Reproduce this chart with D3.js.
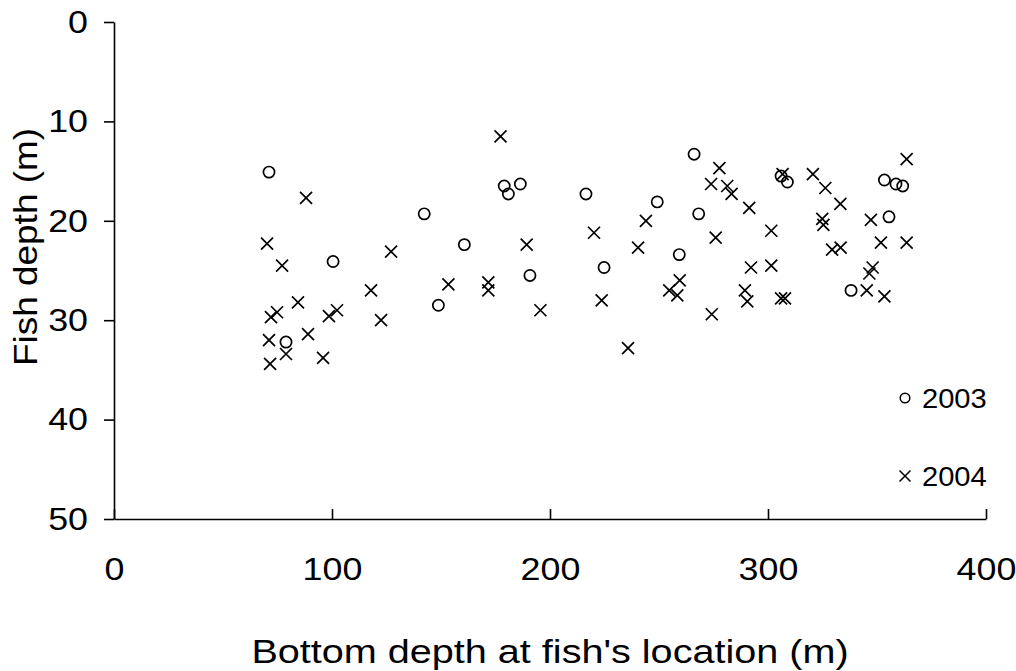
<!DOCTYPE html>
<html>
<head>
<meta charset="utf-8">
<script src="https://cdn.jsdelivr.net/npm/d3@7"></script>
<style>
  html, body { margin: 0; padding: 0; background: #fff; }
  svg { display: block; font-family: "Liberation Sans", Arial, sans-serif; }
</style>
</head>
<body>
<svg id="chart" width="1016" height="671"></svg>
<script>
// Data: [bottom depth (m), fish depth (m)]
const series2003 = [
  [71.1, 15.1], [100.5, 24.1], [78.9, 32.2], [179.0, 16.5], [180.9, 17.3],
  [186.4, 16.3], [142.3, 19.3], [160.7, 22.4], [190.8, 25.5], [148.8, 28.5],
  [266.1, 13.3], [216.5, 17.3], [249.2, 18.1], [268.2, 19.3], [259.3, 23.4],
  [224.8, 24.7], [306.0, 15.5], [308.9, 16.1], [353.4, 15.9], [358.7, 16.3],
  [361.8, 16.5], [355.5, 19.6], [338.1, 27.0]
];
const series2004 = [
  [88.1, 17.7], [70.2, 22.3], [77.1, 24.5], [127.1, 23.1], [117.9, 27.0],
  [84.4, 28.2], [74.8, 29.2], [72.0, 29.7], [102.3, 29.0], [98.6, 29.6],
  [122.5, 30.0], [89.0, 31.4], [71.1, 32.0], [78.9, 33.4], [71.6, 34.4],
  [95.9, 33.8], [177.3, 11.5], [189.3, 22.4], [153.4, 26.4], [171.7, 26.2],
  [171.7, 27.0], [195.6, 29.0], [244.0, 20.0], [220.2, 21.2], [240.4, 22.7],
  [259.5, 26.0], [254.7, 27.0], [258.4, 27.5], [223.7, 28.0], [235.8, 32.8],
  [277.7, 14.7], [273.9, 16.3], [281.3, 16.5], [283.3, 17.3], [291.4, 18.7],
  [276.0, 21.7], [301.5, 21.0], [306.7, 15.3], [320.6, 15.3], [326.3, 16.7],
  [333.2, 18.3], [324.9, 19.8], [325.4, 20.4], [329.4, 22.9], [333.3, 22.7],
  [292.2, 24.7], [301.5, 24.5], [289.4, 27.0], [290.5, 28.1], [306.0, 27.8],
  [307.8, 27.8], [274.2, 29.4], [363.6, 13.8], [347.2, 19.9], [351.8, 22.2],
  [363.6, 22.2], [348.0, 24.7], [346.5, 25.3], [345.3, 27.0], [353.4, 27.6]
];
const xTicks = [0, 100, 200, 300, 400];
const yTicks = [0, 10, 20, 30, 40, 50];
const legendLabels = ["2003", "2004"];
const xTitle = "Bottom depth at fish's location (m)";
const yTitle = "Fish depth (m)";

const FONT = "Liberation Sans, Arial, sans-serif";
const FS = 32;      // axis font size
const SX = 1.12;    // slight horizontal text stretch seen in the reference

const svg = d3.select("#chart");
const x = d3.scaleLinear().domain([0, 400]).range([114, 986]);
const y = d3.scaleLinear().domain([0, 50]).range([22, 519]);

function stretch(sel, k) {
  sel.attr("transform", function () {
    const ax = +(this.getAttribute("x") || 0);
    return `translate(${ax},0) scale(${k},1) translate(${-ax},0)`;
  });
}

// Y axis
const yAxis = svg.append("g")
  .attr("transform", `translate(${x(0)},0)`)
  .call(d3.axisLeft(y).tickValues(yTicks).tickSize(10).tickPadding(16).tickSizeOuter(0));
yAxis.attr("font-size", FS).attr("font-family", FONT);
yAxis.select(".domain").attr("stroke", "#000").attr("stroke-width", 1.6);
yAxis.selectAll(".tick line").attr("stroke", "#000").attr("stroke-width", 1.6);
yAxis.selectAll(".tick text").attr("fill", "#000").call(stretch, SX);

// X axis (ticks pointing up, labels below)
const xAxis = svg.append("g")
  .attr("transform", `translate(0,${y(50)})`)
  .call(d3.axisBottom(x).tickValues(xTicks).tickSize(-10).tickPadding(38).tickSizeOuter(0));
xAxis.attr("font-size", FS).attr("font-family", FONT);
xAxis.select(".domain").attr("stroke", "#000").attr("stroke-width", 1.6);
xAxis.selectAll(".tick line").attr("stroke", "#000").attr("stroke-width", 1.6);
xAxis.selectAll(".tick text").attr("fill", "#000").call(stretch, SX);

// Axis titles
svg.append("text")
  .attr("transform", `translate(550,663) scale(1.2,1)`)
  .attr("text-anchor", "middle")
  .attr("font-size", 33).attr("font-family", FONT).attr("fill", "#000")
  .text(xTitle);
svg.append("text")
  .attr("transform", `translate(37,247) rotate(-90) scale(${SX},1)`)
  .attr("text-anchor", "middle")
  .attr("font-size", 33).attr("font-family", FONT).attr("fill", "#000")
  .text(yTitle);

// Markers
const r = 5.6;
svg.append("g").selectAll("circle")
  .data(series2003).join("circle")
  .attr("cx", d => x(d[0])).attr("cy", d => y(d[1]))
  .attr("r", r).attr("fill", "none").attr("stroke", "#000").attr("stroke-width", 1.7);

const s = 6;
svg.append("g").selectAll("path")
  .data(series2004).join("path")
  .attr("d", d => {
    const cx = x(d[0]), cy = y(d[1]);
    return `M${cx - s},${cy - s}L${cx + s},${cy + s}M${cx - s},${cy + s}L${cx + s},${cy - s}`;
  })
  .attr("fill", "none").attr("stroke", "#000").attr("stroke-width", 1.7);

// Legend
const legend = svg.append("g");
const lx = 905;
const ly = [398, 476];
legend.append("circle").attr("cx", lx).attr("cy", ly[0]).attr("r", 4.8)
  .attr("fill", "none").attr("stroke", "#000").attr("stroke-width", 1.5);
legend.append("path")
  .attr("d", `M${lx - 5.5},${ly[1] - 5.5}L${lx + 5.5},${ly[1] + 5.5}M${lx - 5.5},${ly[1] + 5.5}L${lx + 5.5},${ly[1] - 5.5}`)
  .attr("stroke", "#000").attr("stroke-width", 1.5).attr("fill", "none");
legend.selectAll("text").data(legendLabels).join("text")
  .attr("x", 922).attr("y", (d, i) => ly[i] + 10)
  .attr("font-size", 28).attr("font-family", FONT).attr("fill", "#000")
  .text(d => d)
  .call(stretch, 1.04);
</script>
</body>
</html>
